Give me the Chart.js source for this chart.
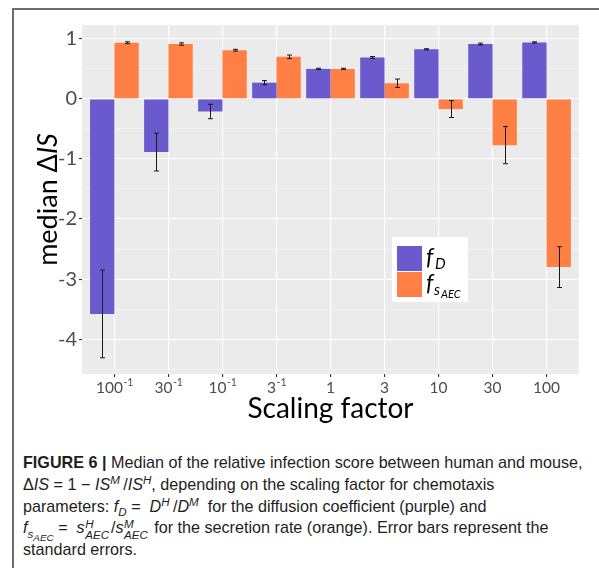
<!DOCTYPE html>
<html lang="en">
<head>
  <meta charset="UTF-8" />
  <title>Median ΔIS by scaling factor</title>
  <script src="https://cdn.jsdelivr.net/npm/chart.js"></script>
  <style>
    body {
      margin: 0;
      width: 599px;
      height: 568px;
      overflow: hidden;
      position: relative;
      background: #fff;
    }
    #frame {
      position: absolute;
      left: 12px;
      top: 8px;
      width: 620px;
      height: 620px;
      border-top: 2px solid #6e6e6e;
      border-left: 2px solid #6e6e6e;
    }
    #chart-container {
      position: absolute;
      left: 0;
      top: 0;
      width: 599px;
      height: 440px;
    }
    #caption {
      position: absolute;
      left: 23px;
      top: 452px;
      font-family: "Liberation Sans", Arial, sans-serif;
      font-size: 16px;
      color: #1e1e1e;
      white-space: nowrap;
    }
    #caption .line {
      height: 21.8px;
      line-height: 21.8px;
    }
    #caption .first {
      display: inline-block;
    }
    #caption sup, #caption sub {
      font-size: 0.72em;
      line-height: 0;
    }
    #caption sub sub {
      font-size: 0.85em;
    }
    #caption .op {
      padding: 0 0.28em;
    }
    #caption .stack {
      display: inline-block;
      font-size: 0.72em;
      line-height: 0.95em;
      vertical-align: -0.45em;
      font-style: italic;
      padding: 0 0.15em 0 0.05em;
    }
  </style>
</head>
<body>
  <div id="frame"></div>
  <div id="chart-container">
    <canvas id="barChart"></canvas>
  </div>
  <div id="caption">
    <div class="line"><span class="first" id="firstLine"><b>FIGURE 6 |</b> Median of the relative infection score between human and mouse,</span></div>
    <div class="line">Δ<i>IS</i><span class="op">=</span>1<span class="op">−</span><i>IS<sup>M</sup></i>&thinsp;/<i>IS<sup>H</sup></i>, depending on the scaling factor for chemotaxis</div>
    <div class="line">parameters: <i>f<sub>D</sub></i><span class="op">=</span>&nbsp;<i>D<sup>H</sup></i>&thinsp;/<i>D<sup>M</sup></i>&nbsp; for the diffusion coefficient (purple) and</div>
    <div class="line"><i>f<sub>s<sub>AEC</sub></sub></i><span class="op">=</span>&nbsp;<i>s</i><span class="stack">H<br>AEC</span>/<i>s</i><span class="stack">M<br>AEC</span> for the secretion rate (orange). Error bars represent the</div>
    <div class="line">standard errors.</div>
  </div>

  <script>
    // scaling factors (tick text = base + superscript exponent)
    const tickBase = ['100', '30', '10', '3', '1', '3', '10', '30', '100'];
    const tickExp = ['-1', '-1', '-1', '-1', '', '', '', '', ''];

    // median ΔIS and standard errors
    const fD = [-3.58, -0.885, -0.21, 0.27, 0.50, 0.69, 0.825, 0.913, 0.94];
    const fDErr = [0.73, 0.315, 0.12, 0.035, 0.01, 0.015, 0.01, 0.015, 0.01];
    const fS = [0.935, 0.913, 0.81, 0.70, 0.50, 0.26, -0.17, -0.77, -2.80];
    const fSErr = [0.015, 0.02, 0.015, 0.03, 0.01, 0.07, 0.14, 0.31, 0.34];

    const purple = '#6A5ACD';
    const orange = '#FF7F45';

    // caption's first line spans the text column
    const caption = document.getElementById('caption');
    const first = document.getElementById('firstLine');
    const w = first.getBoundingClientRect().width;
    caption.style.fontSize = (16 * 560 / w).toFixed(2) + 'px';

    Chart.defaults.font.family = 'Lato, "DejaVu Sans", sans-serif';

    const toPoints = arr => arr.map((v, i) => ({ x: i, y: v }));

    // grey ggplot panel behind the grid
    const panelBg = {
      id: 'panelBg',
      beforeDraw(chart) {
        const { ctx, chartArea: a } = chart;
        ctx.save();
        ctx.fillStyle = '#EBEBEB';
        ctx.fillRect(a.left, a.top, a.right - a.left, a.bottom - a.top);
        ctx.restore();
      }
    };

    const errorBars = {
      id: 'errorBars',
      afterDatasetsDraw(chart) {
        const ctx = chart.ctx;
        const y = chart.scales.y;
        const errs = [fDErr, fSErr];
        ctx.save();
        ctx.strokeStyle = '#1a1a1a';
        ctx.lineWidth = 1;
        chart.data.datasets.forEach((ds, d) => {
          chart.getDatasetMeta(d).data.forEach((bar, i) => {
            const v = ds.data[i].y;
            const top = y.getPixelForValue(v + errs[d][i]);
            const bot = y.getPixelForValue(v - errs[d][i]);
            const x = Math.round(bar.x) + 0.5;
            ctx.beginPath();
            ctx.moveTo(x, top); ctx.lineTo(x, bot);
            ctx.moveTo(x - 2.5, top); ctx.lineTo(x + 2.5, top);
            ctx.moveTo(x - 2.5, bot); ctx.lineTo(x + 2.5, bot);
            ctx.stroke();
          });
        });
        ctx.restore();
      }
    };

    // tick labels with superscripts, axis titles and the inset legend
    const decorations = {
      id: 'decorations',
      afterDraw(chart) {
        const { ctx, chartArea: a } = chart;
        const xs = chart.scales.x;
        ctx.save();

        // x tick labels
        ctx.fillStyle = '#4D4D4D';
        ctx.textBaseline = 'alphabetic';
        ctx.textAlign = 'left';
        tickBase.forEach((b, i) => {
          const px = xs.getPixelForValue(i);
          ctx.font = '15.5px Lato';
          const wb = ctx.measureText(b).width;
          ctx.font = '10.5px Lato';
          const we = tickExp[i] ? ctx.measureText(tickExp[i]).width : 0;
          const x0 = px - (wb + we) / 2;
          ctx.font = '15.5px Lato';
          ctx.fillText(b, x0, a.bottom + 18.5);
          if (tickExp[i]) {
            ctx.font = '10.5px Lato';
            ctx.fillText(tickExp[i], x0 + wb + 0.5, a.bottom + 12);
          }
        });

        // x title
        ctx.fillStyle = '#000';
        ctx.font = '28px Lato';
        ctx.textAlign = 'center';
        ctx.fillText('Scaling factor', (a.left + a.right) / 2, a.bottom + 44);

        // y title: "median ΔIS" with italic IS
        ctx.save();
        ctx.translate(56.5, (a.top + a.bottom) / 2);
        ctx.rotate(-Math.PI / 2);
        ctx.textAlign = 'left';
        const parts = [['median Δ', '27px Lato'], ['IS', 'italic 27px Lato']];
        let total = 0;
        parts.forEach(p => { ctx.font = p[1]; total += ctx.measureText(p[0]).width; });
        let cx = -total / 2;
        parts.forEach(p => {
          ctx.font = p[1];
          ctx.fillText(p[0], cx, 0);
          cx += ctx.measureText(p[0]).width;
        });
        ctx.restore();

        // legend box inside the panel
        const lx = a.left + 310, ly = a.top + 212;
        ctx.fillStyle = '#fff';
        ctx.fillRect(lx, ly, 76, 65);
        const keys = [purple, orange];
        keys.forEach((c, k) => {
          ctx.fillStyle = c;
          ctx.fillRect(lx + 5, ly + 9 + k * 26, 25, 25);
        });
        ctx.fillStyle = '#000';
        ctx.textAlign = 'left';
        ctx.font = 'italic 23px Lato';
        ctx.fillText('f', lx + 34, ly + 28);
        ctx.fillText('f', lx + 34, ly + 54);
        ctx.font = 'italic 15px Lato';
        ctx.fillText('D', lx + 43, ly + 32);
        ctx.fillText('s', lx + 42, ly + 58);
        ctx.font = 'italic 11px Lato';
        ctx.fillText('AEC', lx + 49, ly + 61);

        ctx.restore();
      }
    };

    const chart = new Chart(document.getElementById('barChart'), {
      type: 'bar',
      data: {
        datasets: [
          { label: 'f_D', data: toPoints(fD), backgroundColor: purple },
          { label: 'f_sAEC', data: toPoints(fS), backgroundColor: orange }
        ]
      },
      options: {
        responsive: true,
        maintainAspectRatio: false,
        animation: false,
        categoryPercentage: 0.9,
        barPercentage: 1.0,
        layout: { padding: { left: 0, right: 20, top: 25, bottom: 0 } },
        plugins: {
          legend: { display: false },
          tooltip: { enabled: false }
        },
        scales: {
          x: {
            type: 'linear',
            offset: false,
            min: -0.6,
            max: 8.6,
            ticks: { stepSize: 1, display: false, includeBounds: false },
            grid: { offset: false, color: '#FFFFFF', lineWidth: 1.1, tickLength: 3, tickColor: '#333333' },
            border: { display: false },
            afterFit: s => { s.height = 66; }
          },
          y: {
            min: -4.58,
            max: 1.23,
            ticks: {
              stepSize: 0.5,
              includeBounds: false,
              color: '#4D4D4D',
              padding: 2,
              font: { size: 20 },
              callback: v => Number.isInteger(v) ? String(v) : ''
            },
            grid: {
              color: c => Number.isInteger(c.tick.value) ? '#FFFFFF' : '#F6F6F6',
              lineWidth: c => Number.isInteger(c.tick.value) ? 1.1 : 0.6,
              tickLength: 3,
              tickColor: c => Number.isInteger(c.tick.value) ? '#333333' : 'rgba(0,0,0,0)'
            },
            border: { display: false },
            afterFit: s => { s.width = 82; }
          }
        }
      },
      plugins: [panelBg, errorBars, decorations]
    });
  </script>
</body>
</html>
